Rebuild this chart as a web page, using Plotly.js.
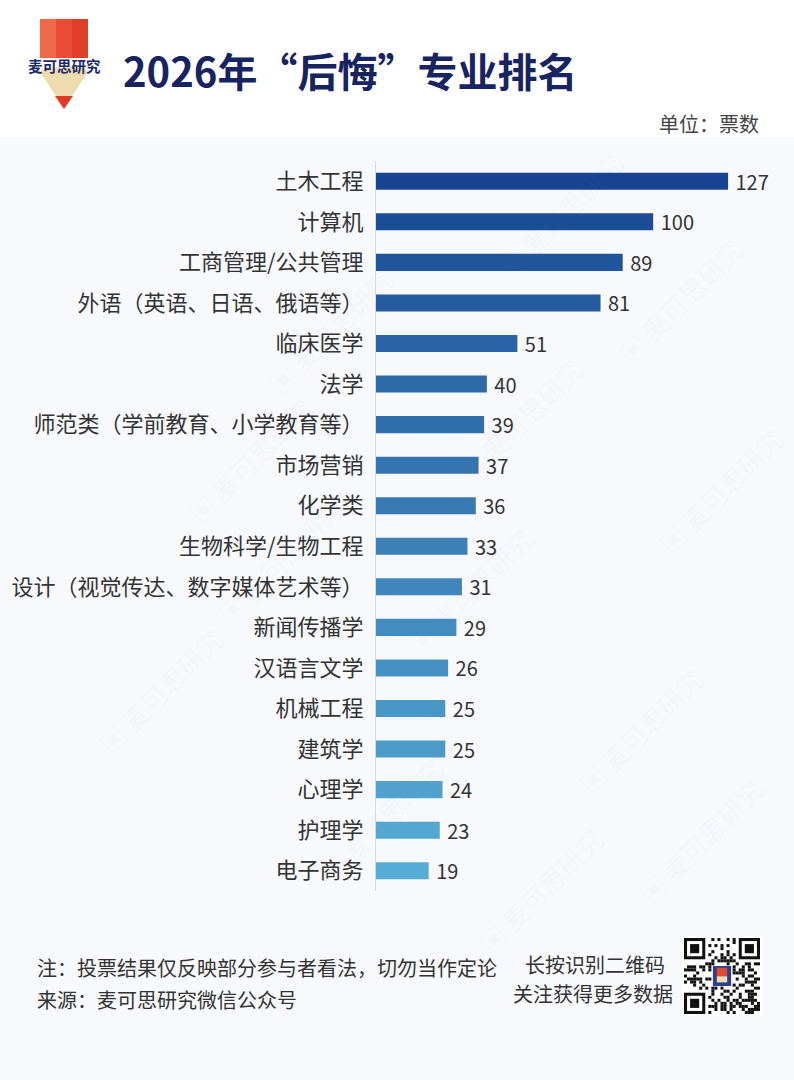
<!DOCTYPE html>
<html>
<head>
<meta charset="utf-8">
<script src="https://cdn.plot.ly/plotly-3.0.1.min.js"></script>
<style>
  html, body { margin: 0; padding: 0; background: #f7f9fc; }
  #chart { width: 794px; height: 1080px; }
</style>
</head>
<body>
<div id="chart"></div>
<script>
// ---- data ----
const categories = [
  "土木工程", "计算机", "工商管理/公共管理", "外语（英语、日语、俄语等）", "临床医学",
  "法学", "师范类（学前教育、小学教育等）", "市场营销", "化学类", "生物科学/生物工程",
  "设计（视觉传达、数字媒体艺术等）", "新闻传播学", "汉语言文学", "机械工程", "建筑学",
  "心理学", "护理学", "电子商务"
];
const votes = [127, 100, 89, 81, 51, 40, 39, 37, 36, 33, 31, 29, 26, 25, 25, 24, 23, 19];

const titleText = "2026年“后悔”专业排名";
const unitText = "单位：票数";
const noteText = "注：投票结果仅反映部分参与者看法，切勿当作定论";
const sourceText = "来源：麦可思研究微信公众号";
const qrLine1 = "长按识别二维码";
const qrLine2 = "关注获得更多数据";
const logoText = "麦可思研究";

// ---- layout geometry ----
const W = 794, H = 1080;
const M = {l: 376, r: 30, t: 161, b: 189};
const PW = W - M.l - M.r, PH = H - M.t - M.b;
const px = x => (x - M.l) / PW;
const py = y => (H - M.b - y) / PH;

// bar colour gradient (top dark navy -> bottom light blue)
const c0 = [22, 68, 145], c1 = [86, 172, 212];
const n = categories.length;
const barColors = categories.map((_, i) => {
  const t = i / (n - 1);
  const c = c0.map((v, k) => Math.round(v + (c1[k] - v) * Math.pow(t, 0.85)));
  return `rgb(${c[0]},${c[1]},${c[2]})`;
});

const FONT = '"Noto Sans CJK SC", "Noto Sans", sans-serif';

const shapes = [];
const annotations = [];
function rect(x0, y0, x1, y1, fill, extra) {
  shapes.push(Object.assign({type: 'rect', xref: 'paper', yref: 'paper',
    x0: px(x0), x1: px(x1), y0: py(y1), y1: py(y0), fillcolor: fill,
    line: {width: 0}, layer: 'below'}, extra || {}));
}
function path(pts, fill, extra) {
  const d = pts.map((p, i) => (i ? 'L' : 'M') + px(p[0]) + ',' + py(p[1])).join(' ') + ' Z';
  shapes.push(Object.assign({type: 'path', xref: 'paper', yref: 'paper', path: d,
    fillcolor: fill, line: {width: 0}, layer: 'above'}, extra || {}));
}
function text(x, y, s, size, color, anchor, extra) {
  annotations.push(Object.assign({xref: 'paper', yref: 'paper', x: px(x), y: py(y),
    text: s, showarrow: false, xanchor: anchor || 'left', yanchor: 'middle',
    font: {family: FONT, size: size, color: color}}, extra || {}));
}

// header white background
rect(0, 0, W, 137, '#ffffff');

// watermarks (faint decoration)
const wm = [[560, 215], [330, 330], [680, 300], [520, 420], [280, 560], [720, 490], [470, 590], [640, 730], [160, 690], [380, 820], [540, 890], [700, 840], [250, 460]];
wm.forEach(p => text(p[0], p[1], '▣ 麦可思研究', 26, 'rgba(120,130,150,0.05)', 'center', {textangle: -45}));

// logo: pencil
rect(40, 19, 56, 60, '#ee6a4a', {layer: 'above'});
rect(56, 19, 72, 60, '#e84e34', {layer: 'above'});
rect(72, 19, 88, 60, '#e03e28', {layer: 'above'});
rect(27, 58, 102, 72, '#ffffff', {layer: 'above'});
// beige tip with scallops
path([[40, 72], [44, 68], [48, 67], [52, 69], [56, 67], [60, 67], [64, 69], [68, 67], [72, 67], [76, 69], [80, 67], [84, 68], [88, 72], [64, 108]], '#efdcae');
path([[55, 96], [73, 96], [64, 109]], '#e23a24');
text(64.5, 65.5, '<b>' + logoText + '</b>', 14.5, '#1c2a6b', 'center');

// title
text(121, 70, '<b>' + titleText + '</b>', 40, '#17245f', 'left');
// unit
text(761, 124, unitText, 20, '#444444', 'right');

// footer
text(35, 967, noteText, 20, '#333333', 'left');
text(35, 999, sourceText, 20, '#333333', 'left');
text(595, 965, qrLine1, 20, '#333333', 'center');
text(593, 993, qrLine2, 20, '#333333', 'center');

// QR code decoration
const qx = 684, qy = 938, qs = 76, cells = 25, cs = qs / cells;
rect(qx - 2, qy - 2, qx + qs + 2, qy + qs + 2, '#ffffff', {layer: 'above'});
function finder(cx, cy) {
  rect(qx + cx * cs, qy + cy * cs, qx + (cx + 7) * cs, qy + (cy + 7) * cs, '#111111', {layer: 'above'});
  rect(qx + (cx + 1) * cs, qy + (cy + 1) * cs, qx + (cx + 6) * cs, qy + (cy + 6) * cs, '#ffffff', {layer: 'above'});
  rect(qx + (cx + 2) * cs, qy + (cy + 2) * cs, qx + (cx + 5) * cs, qy + (cy + 5) * cs, '#111111', {layer: 'above'});
}
finder(0, 0); finder(cells - 7, 0); finder(0, cells - 7);
for (let r = 0; r < cells; r++) {
  for (let c = 0; c < cells; c++) {
    const inFinder = (r < 8 && c < 8) || (r < 8 && c > cells - 9) || (r > cells - 9 && c < 8);
    const inLogo = r >= 9 && r <= 15 && c >= 9 && c <= 15;
    if (inFinder || inLogo) continue;
    const h = ((r * 73856093) ^ (c * 19349663) ^ (r * c * 83492791)) >>> 0;
    if ((h % 7) < 3) {
      rect(qx + c * cs, qy + r * cs, qx + (c + 1) * cs, qy + (r + 1) * cs, '#111111', {layer: 'above'});
    }
  }
}
rect(qx + 9.5 * cs, qy + 9.2 * cs, qx + 15.5 * cs, qy + 15.8 * cs, '#2a3f8f', {layer: 'above'});
rect(qx + 10.8 * cs, qy + 9.8 * cs, qx + 14.2 * cs, qy + 12.6 * cs, '#e44a30', {layer: 'above'});
rect(qx + 10.8 * cs, qy + 12.6 * cs, qx + 14.2 * cs, qy + 14.6 * cs, '#efdcae', {layer: 'above'});

const trace = {
  type: 'bar',
  orientation: 'h',
  y: categories,
  x: votes,
  marker: {color: barColors, line: {width: 0}},
  width: 0.42,
  texttemplate: ' %{x}',
  textposition: 'outside',
  constraintext: 'none',
  cliponaxis: false,
  textfont: {family: FONT, size: 20, color: '#333333'},
  hoverinfo: 'none'
};

const layout = {
  width: W, height: H,
  margin: M,
  paper_bgcolor: '#f7f9fc',
  plot_bgcolor: 'rgba(0,0,0,0)',
  showlegend: false,
  font: {family: FONT},
  xaxis: {range: [0, PW / 2.772], visible: false, fixedrange: true},
  yaxis: {
    autorange: false, range: [n - 0.5, -0.5],
    showline: true, linecolor: '#d6dae0', linewidth: 1,
    showgrid: false, zeroline: false, ticks: '',
    ticklabelstandoff: 7,
    tickfont: {family: FONT, size: 22, color: '#333333'}
  },
  shapes: shapes,
  annotations: annotations
};

Plotly.newPlot('chart', [trace], layout, {displayModeBar: false, staticPlot: true});
</script>
</body>
</html>
